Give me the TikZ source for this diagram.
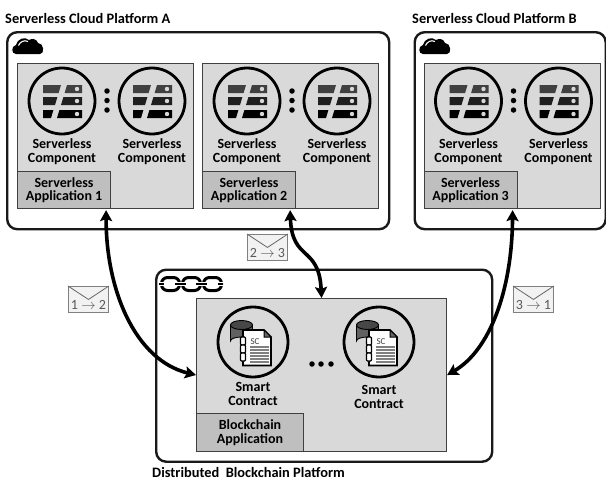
\documentclass[tikz,border=0pt]{standalone}
\usepackage{fontspec}
\setmainfont{Carlito}
\usetikzlibrary{arrows.meta,calc}
\definecolor{boxgray}{HTML}{D9D9D9}
\definecolor{labgray}{HTML}{BFBFBF}
\definecolor{edgegray}{HTML}{404040}
\tikzset{
 platform/.style={draw=black!90,line width=2.4pt,rounded corners=10pt,fill=white,anchor=north west,inner sep=0pt},
 appbox/.style={draw=edgegray,line width=1.1pt,fill=boxgray,anchor=north west,inner sep=0pt},
 labbox/.style={draw=edgegray,line width=1.1pt,fill=labgray,anchor=north west,inner sep=0pt,font=\fontsize{14}{13.5}\selectfont\bfseries,align=center,text=black},
 txt/.style={font=\fontsize{14}{14}\selectfont\bfseries,align=center,text=black,inner sep=0pt},
 title/.style={font=\fontsize{14.4}{14}\selectfont\bfseries,anchor=west,inner sep=0pt,text=black},
 ring/.style={circle,draw=black,line width=2.8pt,fill=boxgray,inner sep=0pt},
 dotm/.style={circle,fill=black,inner sep=0pt,minimum size=5.5pt},
 msg/.style={draw=black!50,line width=.9pt,fill=black!5,inner sep=0pt,anchor=north west,minimum width=40pt,minimum height=26pt},
 link/.style={line width=3.6pt,black,{Stealth[length=11pt,width=12pt,inset=2pt]}-{Stealth[length=11pt,width=12pt,inset=2pt]}},
 pics/servers/.style={code={
  \fill[black!75] (-19,-16) -- (-1,-16) -- (-3.4,-8) -- (-19,-8) -- cycle;
  \fill[black!75] (5,-16) -- (20,-16) -- (20,-8) -- (2.6,-8) -- cycle;
  \fill[black!88] (-19,-4) -- (-4.6,-4) -- (-7,4) -- (-19,4) -- cycle;
  \fill[black!88] (1.4,-4) -- (20,-4) -- (20,4) -- (-1,4) -- cycle;
  \fill[black] (-19,9) -- (-8.6,9) -- (-11,17) -- (-19,17) -- cycle;
  \fill[black] (-2.6,9) -- (20,9) -- (20,17) -- (-5,17) -- cycle;
  \fill[white!85!black] (15,-12) circle (2.2) (15,0) circle (2.2) (15,13) circle (2.2);
 }},
 pics/cloud/.style={code={
  \fill[black] (3,17) .. controls (-2,17) and (-2,9) .. (3,8) .. controls (4,2) and (12,-1) .. (16,3)
     .. controls (19,1) and (24,2) .. (25,6) .. controls (31,6) and (32,17) .. (27,17) -- cycle;
  \draw[white,line width=1.1pt] (5.5,8.5) .. controls (7,5) and (11,2.5) .. (15,4.5);
 }},
 pics/chain/.style={code={
  \foreach \x in {0,21,42}{\draw[black,line width=3pt,rounded corners=6pt] (\x+1.5,1.5) rectangle (\x+19.5,14.5);}
  \foreach \a/\b in {-1/4,15/26,36/47,58/63}{
    \draw[white,line width=4.4pt] (\a,8) -- (\b,8);
    \draw[black,line width=2.4pt] (\a,8) -- (\b,8);}
 }},
 pics/contract/.style={code={
  \draw[black,fill=black!62,line width=.9pt] (-22.5,-17) -- (-22.5,-1) arc[start angle=180,end angle=360,x radius=11,y radius=4] -- (-0.5,-17) -- cycle;
  \draw[black,fill=black!72,line width=.9pt] (-11.5,-17) ellipse[x radius=11,y radius=4.5];
  \draw[black,fill=white,line width=1.7pt] (-10,-12) -- (11,-12) -- (18,-5) -- (18,23.5) -- (-10,23.5) -- cycle;
  \draw[black,fill=black!60,line width=1pt] (11,-12) -- (11,-5) -- (18,-5) -- cycle;
  \node[inner sep=0pt,font=\fontsize{9}{9}\selectfont,text=black!75] at (2,0) {SC};
  \foreach \y in {5,8,11,14,17,20}{\draw[black!50,line width=1.9pt] (-3,\y) -- (15.5,\y);}
  \foreach \y in {-5,3,11}{\draw[black,fill=white,line width=1.3pt,rounded corners=1pt] (-12.5,\y) rectangle (-7.5,\y+8);}
 }},
}
\begin{document}
\begin{tikzpicture}[x=1pt,y=-1pt]
\useasboundingbox (0,0) rectangle (606,480);
\node[title] (ta) at (5,18) {Serverless Cloud Platform A};
\node[title] (tb) at (412,18) {Serverless Cloud Platform B};
\node[title] (tc) at (152,472.5) {Distributed\ \ Blockchain Platform};
% platforms
\node[platform,minimum width=382pt,minimum height=197pt] (pa) at (6,31) {};
\node[platform,minimum width=191pt,minimum height=197pt] (pb) at (413.5,31) {};
\node[platform,minimum width=336pt,minimum height=192pt] (pc) at (155,268.5) {};
\pic at (13,37) {cloud};
\pic at (420,37) {cloud};
\pic at (160,276) {chain};
% applications
\foreach \n/\x/\lab in {1/17/Application 1,2/202/Application 2,3/423.5/Application 3}{
  \node[appbox,minimum width=176pt,minimum height=145pt] (app\n) at (\x,63) {};
  \node[ring,minimum size=66pt] (cl\n) at (\x+45,101) {};
  \node[ring,minimum size=66pt] (cr\n) at (\x+135,101) {};
  \pic at (cl\n) {servers};
  \pic at (cr\n) {servers};
  \node[dotm] (da\n) at (\x+90,91) {};
  \node[dotm] (db\n) at (\x+90,100.5) {};
  \node[dotm] (dc\n) at (\x+90,110) {};
  \node[txt] (tl\n) at (\x+45,152) {Serverless\\Component};
  \node[txt] (tr\n) at (\x+135,152) {Serverless\\Component};
  \node[labbox,minimum width=93pt,minimum height=37pt] (lab\n) at (\x,171) {Serverless\\\lab};
}
% blockchain application
\node[appbox,minimum width=250pt,minimum height=153pt] (bapp) at (196,298) {};
\node[ring,minimum size=70pt] (sc1) at (253,342) {};
\node[ring,minimum size=70pt] (sc2) at (379,342) {};
\pic at (sc1) {contract};
\pic at (sc2) {contract};
\node[txt] (st1) at (253,394) {Smart\\Contract};
\node[txt] (st2) at (379,397) {Smart\\Contract};
\node[dotm] (e1) at (312,364) {};
\node[dotm] (e2) at (321,364) {};
\node[dotm] (e3) at (331,364) {};
\node[labbox,minimum width=107pt,minimum height=38pt] (blab) at (196,413) {Blockchain\\Application};
% messages
\foreach \n/\x/\y/\t in {m1/68/286/{1 $\to$ 2},m2/247/234/{2 $\to$ 3},m3/513/286/{3 $\to$ 1}}{
  \node[msg] (\n) at (\x,\y) {};
  \draw[black!60,line width=.8pt] (\n.north west) -- (\n.center) -- (\n.north east);
  \node[inner sep=0pt,font=\fontsize{14}{14}\selectfont,text=black!65] at ($(\n.center)+(0,6)$) {\t};
}
% links
\draw[link] ($(lab1.south east)+(-5,1)$) .. controls (106,290) and (135,360) .. (bapp.west);
\draw[link] ($(lab2.south east)+(-6,1)$) .. controls (292,262) and (319,245) .. (bapp.north);
\draw[link] ($(lab3.south east)+(-5,1)$) .. controls (512,290) and (490,350) .. (bapp.east);
\end{tikzpicture}
\end{document}
